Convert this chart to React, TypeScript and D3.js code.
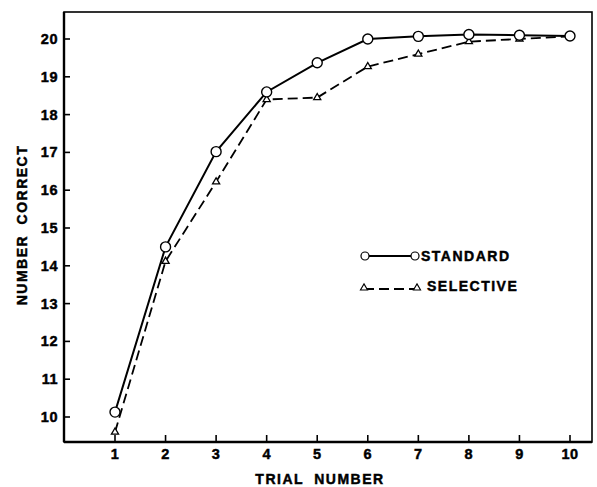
import React, { useEffect, useRef } from 'react';
import * as d3 from 'd3';

// trial numbers on the x axis
const trials = [1, 2, 3, 4, 5, 6, 7, 8, 9, 10];
// number correct
const standard = [10.13, 14.5, 17.02, 18.6, 19.37, 20.0, 20.07, 20.12, 20.1, 20.08];
const selective = [9.6, 14.12, 16.22, 18.4, 18.45, 19.27, 19.6, 19.93, 20.0, 20.07];
const yTicks = [10, 11, 12, 13, 14, 15, 16, 17, 18, 19, 20];
const seriesNames = ['STANDARD', 'SELECTIVE'];

const W = 597;
const H = 487;
const box = { left: 64, right: 592, top: 12, bottom: 442 };
const font = '"Liberation Sans", Arial, sans-serif';

// heavy bold text like the scanned figure
const bold = (sel: any, size: number, spacing: number) =>
    sel.style('font-family', font).style('font-weight', '700')
        .style('font-size', size + 'px').style('letter-spacing', spacing + 'px')
        .attr('stroke', '#000').attr('stroke-width', 0.45).attr('fill', '#000');

const App = () => {
    const ref = useRef<SVGSVGElement>(null);

    useEffect(() => {
        const svg = d3.select(ref.current);
        svg.selectAll('*').remove();

        const x = d3.scaleLinear().domain([1, 10]).range([115, 570]);
        const y = d3.scaleLinear().domain([10, 20]).range([417, 39]);

        // frame
        svg.append('rect')
            .attr('x', box.left).attr('y', box.top)
            .attr('width', box.right - box.left).attr('height', box.bottom - box.top)
            .attr('fill', 'none').attr('stroke', '#000').attr('stroke-width', 1.6);
        svg.append('line')
            .attr('x1', box.left).attr('x2', box.right)
            .attr('y1', box.bottom).attr('y2', box.bottom)
            .attr('stroke', '#000').attr('stroke-width', 2.6);
        svg.append('line')
            .attr('x1', box.left).attr('x2', box.left)
            .attr('y1', box.top).attr('y2', box.bottom)
            .attr('stroke', '#000').attr('stroke-width', 2.4);

        // y ticks (inward)
        const yg = svg.append('g');
        yTicks.forEach(t => {
            yg.append('line')
                .attr('x1', box.left).attr('x2', box.left + 6)
                .attr('y1', y(t)).attr('y2', y(t))
                .attr('stroke', '#000').attr('stroke-width', 1.6);
            bold(yg.append('text')
                .attr('x', box.left - 6).attr('y', y(t))
                .attr('text-anchor', 'end').attr('dominant-baseline', 'central'), 14.5, 0.5)
                .text(t);
        });

        // x ticks (inward)
        const xg = svg.append('g');
        trials.forEach(t => {
            xg.append('line')
                .attr('x1', x(t)).attr('x2', x(t))
                .attr('y1', box.bottom).attr('y2', box.bottom - 7)
                .attr('stroke', '#000').attr('stroke-width', 1.6);
            bold(xg.append('text')
                .attr('x', x(t)).attr('y', 454)
                .attr('text-anchor', 'middle').attr('dominant-baseline', 'central'), 14.5, 0.5)
                .text(t);
        });

        // axis titles
        bold(svg.append('text')
            .attr('x', 320).attr('y', 479)
            .attr('text-anchor', 'middle').attr('dominant-baseline', 'central'), 14, 1.5)
            .style('word-spacing', '5px')
            .text('TRIAL NUMBER');
        bold(svg.append('text')
            .attr('transform', 'translate(22,225) rotate(-90)')
            .attr('text-anchor', 'middle').attr('dominant-baseline', 'central'), 14, 1.5)
            .style('word-spacing', '5px')
            .text('NUMBER CORRECT');

        const line = d3.line<number>().x((d, i) => x(trials[i])).y(d => y(d));
        const tri = d3.symbol().type(d3.symbolTriangle).size(22);

        // selective series (dashed, triangles)
        svg.append('path')
            .attr('d', line(selective))
            .attr('fill', 'none').attr('stroke', '#000').attr('stroke-width', 1.8)
            .attr('stroke-dasharray', '10,5');
        svg.selectAll('.tri').data(selective).enter().append('path')
            .attr('class', 'tri')
            .attr('d', tri)
            .attr('transform', (d, i) => `translate(${x(trials[i])},${y(d)})`)
            .attr('fill', '#fff').attr('stroke', '#000').attr('stroke-width', 1.3);

        // standard series (solid, circles)
        svg.append('path')
            .attr('d', line(standard))
            .attr('fill', 'none').attr('stroke', '#000').attr('stroke-width', 2);
        svg.selectAll('.circ').data(standard).enter().append('circle')
            .attr('class', 'circ')
            .attr('cx', (d, i) => x(trials[i])).attr('cy', d => y(d))
            .attr('r', 5)
            .attr('fill', '#fff').attr('stroke', '#000').attr('stroke-width', 1.4);

        // legend
        const lg = svg.append('g');
        lg.append('line').attr('x1', 365).attr('x2', 415).attr('y1', 256).attr('y2', 256)
            .attr('stroke', '#000').attr('stroke-width', 2);
        [365, 415].forEach(cx => {
            lg.append('circle').attr('cx', cx).attr('cy', 256).attr('r', 4)
                .attr('fill', '#fff').attr('stroke', '#000').attr('stroke-width', 1.2);
        });
        bold(lg.append('text').attr('x', 421).attr('y', 261), 14, 1.5)
            .text(seriesNames[0]);

        lg.append('line').attr('x1', 364).attr('x2', 417).attr('y1', 289).attr('y2', 289)
            .attr('stroke', '#000').attr('stroke-width', 1.8).attr('stroke-dasharray', '10,5');
        [364, 417].forEach(cx => {
            lg.append('path').attr('d', tri)
                .attr('transform', `translate(${cx},288)`)
                .attr('fill', '#fff').attr('stroke', '#000').attr('stroke-width', 1.1);
        });
        bold(lg.append('text').attr('x', 427).attr('y', 291), 14, 1.5)
            .text(seriesNames[1]);
    }, []);

    return (
        <svg ref={ref} width={W} height={H}
            style={{ position: 'absolute', left: 0, top: 0, background: '#fff' }} />
    );
};

export default App;
